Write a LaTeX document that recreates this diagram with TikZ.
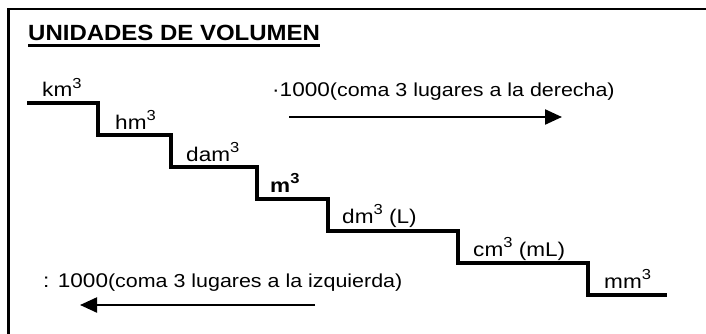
\documentclass[tikz,border=0pt]{standalone}
\usepackage{fontspec}
\setmainfont{Liberation Sans}
\usetikzlibrary{arrows.meta,calc}
\tikzset{
  unit/.style={anchor=base west, inner sep=0pt, xscale=1.14, font=\fontsize{19.8}{21}\selectfont},
  heading/.style={anchor=base west, inner sep=0pt, xscale=1.09, font=\fontsize{22}{24}\selectfont\bfseries},
  stair/.style={line width=3.4pt, line join=miter},
  shiftarrow/.style={line width=2.2pt, -{Triangle[length=17pt,width=15pt]}},
}
\newcommand{\smalltxt}{\fontsize{18.8}{20}\selectfont}
\newcommand{\cubo}{\raisebox{0.42em}{\fontsize{14.5}{15}\selectfont 3}}
\begin{document}
\begin{tikzpicture}[x=1pt,y=-1pt]
\useasboundingbox (0,0) rectangle (706,334);
% frame
\draw[line width=2.2pt] (8.5,334) -- (8.5,9) -- (706,9);
% title
\node[heading] (title) at (28,41) {UNIDADES DE VOLUMEN};
\draw[line width=2.4pt] ($(title.base west)+(0,4.5)$) -- ($(title.base east)+(0,4.5)$);
% staircase
\draw[stair] (27,103) -- (98,103) -- (98,135) -- (171,135) -- (171,167)
  -- (257,167) -- (257,199) -- (328,199) -- (328,231) -- (458,231)
  -- (458,263) -- (588,263) -- (588,295) -- (667,295);
% units
\node[unit] (km) at (42,97) {km\cubo};
\node[unit] (hm) at (115,129) {hm\cubo};
\node[unit] (dam) at (186,161) {dam\cubo};
\node[unit] (m) at (270,192) {\textbf{m\cubo}};
\node[unit] (dm) at (342,223) {dm\cubo{} (L)};
\node[unit] (cm) at (473,256) {cm\cubo{} (mL)};
\node[unit] (mm) at (604,288) {mm\cubo};
% multiply / divide
\node[unit] (mult) at (272,97) {·1000{\smalltxt(coma 3 lugares a la derecha)}};
\coordinate (multA) at (289,117);
\coordinate (multB) at (562,117);
\draw[shiftarrow] (multA) -- (multB);
\node[unit] (divi) at (43,287) {: 1000{\smalltxt(coma 3 lugares a la izquierda)}};
\coordinate (diviA) at (315,305);
\coordinate (diviB) at (80,305);
\draw[shiftarrow] (diviA) -- (diviB);
\end{tikzpicture}
\end{document}
